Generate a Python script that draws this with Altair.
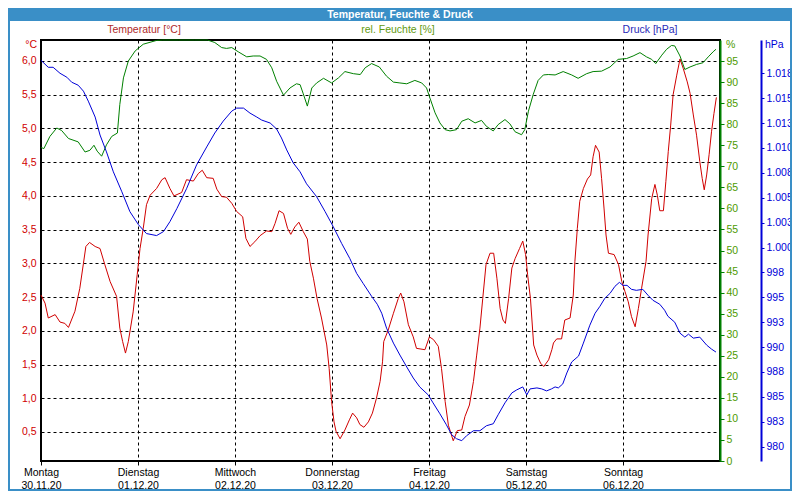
import altair as alt
import pandas as pd

# ---------------- data ----------------
temp_h = [0, 1, 1.8, 3.5, 4.7, 5.9, 6.8, 8.4, 9.6, 10.5, 11.1, 12, 13.4, 14.6, 15.8, 17.1, 18.7, 19.5, 20.2, 20.9,
          21.6, 22.8, 23.8, 24.5, 25.3, 26.1, 27, 28.6, 29.9, 30.7, 31.9, 32.9, 34.8, 36, 37.7, 38.9, 39.9, 41,
          42.6, 43.5, 44.7, 45.9, 47.2, 48.4, 49.9, 50.7, 51.7, 52.9, 54.2, 55.8, 57.1, 57.9, 58.9, 60, 61, 61.8,
          62.8, 63.8, 64.9, 65.9, 66.5, 67.4, 68.3, 69.4, 70.7, 71.3, 71.9, 72.5, 73, 74, 75.2, 76.3, 77.1, 78.1,
          78.9, 79.9, 81, 82, 83, 83.9, 84.5, 84.8, 85.9, 87.2, 88.4, 89, 89.8, 90.9, 92.1, 92.9, 95, 96.1, 97.1,
          98.3, 99.1, 100, 100.8, 102, 103, 104.1, 104.9, 106, 107, 107.8, 108.6, 109.3, 110.1, 111.1, 112, 112.8,
          113.6, 114.3, 114.9, 115.7, 116.5, 117.3, 118.4, 119.2, 119.9, 120.4, 121.1, 121.9, 122.7, 123.6, 124.4,
          125.6, 126.4, 126.8, 127.6, 128.8, 129.6, 130.9, 131.7, 132.1, 132.7, 133.3, 134.2, 135.2, 136, 136.6,
          137.2, 138.1, 138.7, 139.3, 139.8, 140.4, 141.8, 142.9, 143.7, 144.5, 145.3, 146.1, 147, 147.8, 148.6,
          149.7, 150.2, 151.1, 151.9, 152.5, 153.1, 154, 154.6, 155.2, 155.8, 156.4, 157.3, 158.1, 158.9, 159.9,
          160.6, 161.4, 162.2, 163, 163.6, 164.1, 164.7, 165.3, 165.9, 166.5, 167.1]
temp_v = [2.53, 2.41, 2.19, 2.24, 2.13, 2.11, 2.05, 2.29, 2.63, 3.0, 3.25, 3.31, 3.25, 3.22, 2.98, 2.73, 2.51, 2.04,
          1.84, 1.67, 1.84, 2.28, 2.83, 3.22, 3.52, 3.87, 4.01, 4.11, 4.24, 4.27, 4.11, 4.0, 4.05, 4.24, 4.22, 4.33,
          4.38, 4.27, 4.26, 4.10, 3.99, 3.98, 3.89, 3.77, 3.69, 3.37, 3.25, 3.32, 3.41, 3.48, 3.47, 3.59, 3.78,
          3.74, 3.52, 3.43, 3.54, 3.61, 3.47, 3.36, 3.03, 2.78, 2.48, 2.19, 1.79, 1.44, 0.95, 0.65, 0.51, 0.40,
          0.53, 0.68, 0.78, 0.71, 0.61, 0.57, 0.65, 0.78, 1.0, 1.25, 1.54, 1.84, 2.01, 2.26, 2.48, 2.56, 2.43,
          2.09, 1.91, 1.74, 1.72, 1.91, 1.87, 1.77, 1.44, 0.95, 0.60, 0.37, 0.52, 0.53, 0.73, 0.90, 1.25, 1.64,
          2.04, 2.48, 2.98, 3.15, 3.15, 2.78, 2.33, 2.16, 2.11, 2.48, 2.93, 3.07, 3.22, 3.33, 3.13, 2.83, 2.48,
          1.79, 1.64, 1.52, 1.47, 1.57, 1.72, 1.82, 1.88, 1.88, 2.16, 2.19, 2.53, 3.03, 3.52, 3.92, 4.11, 4.25,
          4.31, 4.58, 4.75, 4.65, 4.26, 3.82, 3.42, 3.15, 3.13, 2.98, 2.73, 2.58, 2.43, 2.21, 2.06, 2.33, 2.63,
          3.03, 3.42, 3.96, 4.17, 4.01, 3.78, 3.78, 4.21, 4.66, 5.05, 5.50, 5.79, 6.03, 5.89, 5.69, 5.52, 5.20,
          4.90, 4.51, 4.26, 4.09, 4.31, 4.61, 4.95, 5.22, 5.46]

hum_h = [0, 0.7, 2.2, 3.9, 5.1, 6.8, 9.2, 10.9, 12.1, 13.1, 13.9, 15, 16.2, 17.5, 18.9, 19.5, 20.4, 21.6, 23.3,
         25.3, 28.6, 30, 34, 38, 41.2, 41.8, 43, 44.7, 45.9, 47.2, 48.8, 50.9, 52.5, 54.2, 55.8, 57.1, 58.3, 60,
         61.6, 63.2, 64.1, 64.9, 65.9, 67, 68.2, 69.9, 71.9, 73.6, 75.2, 77.3, 79, 80.2, 81.8, 83.7, 85.5, 87.2,
         88.8, 90.5, 92.5, 94.2, 95.4, 96.2, 97.5, 98.7, 100, 101.2, 102.8, 104.1, 105.7, 107.4, 109, 110.2,
         111.9, 113.1, 114.8, 116, 117.3, 118.9, 119.7, 120.6, 121.8, 123, 124.3, 125.5, 127.2, 129.2, 131.3,
         132.9, 135, 136.6, 138.7, 140.8, 142.8, 144.9, 146.5, 148.2, 149.8, 151.1, 152.1, 153.6, 154.8, 156,
         156.8, 158.1, 159.3, 160.6, 162.2, 163.8, 165.1, 166.3, 167]
hum_v = [74.5, 74.2, 77.1, 79.1, 78.5, 76.6, 75.8, 73.4, 73.8, 75.0, 73.6, 72.4, 75.1, 77.1, 77.9, 84.7, 91.0,
         95.0, 97.4, 99.0, 99.9, 100, 100, 100, 100, 99.8, 99.4, 98.2, 98.0, 98.2, 97.2, 96.0, 96.2, 96.2, 95.4,
         93.4, 90.2, 86.9, 88.6, 89.6, 89.4, 87.2, 84.3, 88.6, 89.8, 90.9, 89.8, 91.0, 92.5, 92.0, 91.8, 93.4,
         94.4, 93.6, 91.4, 90.0, 89.8, 89.6, 90.4, 89.8, 88.6, 86.3, 82.7, 80.3, 78.7, 78.4, 78.7, 80.7, 81.3,
         80.3, 80.9, 79.5, 78.4, 79.9, 81.1, 80.1, 78.2, 77.5, 78.7, 83.1, 87.1, 90.4, 91.7, 91.8, 91.7, 92.5,
         91.7, 90.9, 92.0, 92.5, 92.6, 93.6, 95.4, 95.6, 96.2, 97.0, 96.0, 95.4, 94.4, 96.4, 97.8, 98.7, 98.6,
         96.2, 93.0, 93.6, 94.2, 94.6, 96.0, 97.2, 97.8]

press_h = [0, 1.8, 3, 4.7, 6.4, 7.6, 9.2, 10.5, 11.7, 13.4, 14.6, 16.2, 17.9, 20, 22, 24.1, 26.1, 28.6, 30.3,
           31.9, 33.6, 36, 38.5, 41, 43, 45.1, 47.2, 48.4, 50.1, 51.7, 53.4, 54.6, 56.7, 58.3, 59.5, 60.8, 62.4,
           64.1, 65.7, 68.2, 70.3, 72.3, 74.4, 76.4, 78.1, 79.7, 81.8, 83.2, 84.3, 85.5, 87.2, 88.8, 90.5, 92.1,
           93.7, 95.8, 97, 98.7, 100.3, 101.6, 102.8, 104.1, 105.3, 107, 108.6, 110.2, 111.9, 113.1, 114.8,
           116.5, 117.7, 119.2, 120.2, 121, 122.7, 123.9, 125.1, 126.3, 127.2, 128, 129.1, 130.1, 131.3, 133,
           134.2, 135.8, 137.1, 138.3, 139.5, 140.8, 142, 143.1, 144, 145, 146.1, 147.3, 148.9, 150.2, 151.4,
           153.1, 154.3, 155.1, 156.8, 158.1, 159.3, 160.2, 161.4, 163, 164.7, 165.9, 167]
press_v = [1018.8, 1018.1, 1018.1, 1017.5, 1017.1, 1016.6, 1016.3, 1015.7, 1014.7, 1013.1, 1011.3, 1009.6,
           1007.6, 1005.6, 1003.6, 1002.3, 1001.4, 1001.2, 1001.6, 1002.6, 1003.9, 1005.9, 1008.3, 1010.1,
           1011.5, 1012.7, 1013.7, 1014.0, 1014.0, 1013.5, 1013.1, 1012.8, 1012.5, 1011.9, 1011.0, 1009.8,
           1008.5, 1007.6, 1006.4, 1005.1, 1003.6, 1002.1, 1000.4, 998.9, 997.4, 996.4, 995.1, 994.3, 993.4,
           991.9, 990.4, 989.2, 988.0, 986.9, 986.0, 985.2, 984.4, 983.3, 982.2, 981.2, 980.8, 980.6, 981.1,
           981.6, 981.6, 982.1, 982.3, 983.2, 984.4, 985.4, 985.7, 986.0, 985.2, 985.8, 985.9, 985.8, 985.6,
           985.8, 986.0, 985.9, 986.3, 987.4, 988.5, 989.1, 990.4, 992.2, 993.4, 994.1, 994.9, 995.4, 996.1,
           996.5, 996.2, 996.2, 995.8, 995.7, 995.8, 995.2, 994.7, 994.3, 993.7, 993.1, 992.5, 991.4, 991.0,
           991.3, 990.9, 991.0, 990.2, 989.8, 989.5]

days = ["Montag", "Dienstag", "Mittwoch", "Donnerstag", "Freitag", "Samstag", "Sonntag"]
dates = ["30.11.20", "01.12.20", "02.12.20", "03.12.20", "04.12.20", "05.12.20", "06.12.20"]
day_hours = [0, 24, 48, 72, 96, 120, 144]
temp_ticks = [0.5, 1.0, 1.5, 2.0, 2.5, 3.0, 3.5, 4.0, 4.5, 5.0, 5.5, 6.0]
hum_ticks = list(range(0, 100, 5))
press_ticks = [980, 982.5, 985, 987.5, 990, 992.5, 995, 997.5, 1000, 1002.5, 1005, 1007.5, 1010, 1012.5,
               1015, 1017.5]

title_text = "Temperatur, Feuchte & Druck"
series_titles = ["Temperatur [°C]", "rel. Feuchte [%]", "Druck [hPa]"]

# ---------------- layout / style ----------------
W, H = 679, 421
FONT = "Liberation Sans"
FS = 10.5
RED, GREEN, BLUE = "#d00000", "#008000", "#0000d8"
BAR = "#3a8fc7"

df_t = pd.DataFrame({"h": temp_h, "v": temp_v})
df_f = pd.DataFrame({"h": hum_h, "v": hum_v})
df_p = pd.DataFrame({"h": press_h, "v": press_v})
one = pd.DataFrame({"k": [0]})

label_expr = "[" + ",".join(f"['{d}','{t}']" for d, t in zip(days, dates)) + "][round(datum.value/24)]"

xaxis = alt.Axis(values=day_hours, labelExpr=label_expr, grid=True, gridDash=[3, 3], gridColor="black",
                 gridWidth=1, gridOpacity=1, domain=False, ticks=True, tickColor="black", tickSize=4,
                 labelColor="black", labelFontSize=FS, labelLineHeight=13, labelPadding=2, title=None,
                 labelAngle=0, labelAlign="center", labelBaseline="top", labelFlush=False,
                 labelOverlap=False)
xenc = alt.X("h:Q", scale=alt.Scale(domain=[0, 168], nice=False, zero=False), axis=xaxis)

temp_line = alt.Chart(df_t).mark_line(color=RED, strokeWidth=1).encode(
    x=xenc,
    y=alt.Y("v:Q", scale=alt.Scale(domain=[0.07, 6.311], nice=False, zero=False),
            axis=alt.Axis(orient="left", values=temp_ticks,
                          labelExpr="replace(format(datum.value, '.1f'), '.', ',')",
                          grid=True, gridDash=[3, 3], gridColor="black", gridWidth=1, gridOpacity=1,
                          domain=False, ticks=False, labelColor=RED, labelFontSize=FS, labelPadding=5,
                          title=None))
)

hum_line = alt.Chart(df_f).mark_line(color=GREEN, strokeWidth=1).encode(
    x=xenc,
    y=alt.Y("v:Q", scale=alt.Scale(domain=[0, 100], nice=False, zero=False),
            axis=alt.Axis(orient="right", values=hum_ticks, grid=False, domainColor=GREEN, domainWidth=2,
                          tickColor=GREEN, tickSize=4, tickWidth=1, labelColor="#4e9a00",
                          labelFontSize=FS, labelPadding=2, title=None))
)

press_line = alt.Chart(df_p).mark_line(color=BLUE, strokeWidth=1).encode(
    x=xenc,
    y=alt.Y("v:Q", scale=alt.Scale(domain=[978.56, 1020.84], nice=False, zero=False),
            axis=alt.Axis(orient="right", offset=41, values=press_ticks,
                          labelExpr="replace(format(datum.value, ',.0f'), ',', '.')",
                          grid=False, domainColor=BLUE, domainWidth=2, tickColor=BLUE, tickSize=3,
                          tickWidth=1, labelColor=BLUE, labelFontSize=FS, labelPadding=2, title=None))
)


def text(s, x, y, color, align="center", bold=False, size=FS):
    return alt.Chart(one).mark_text(
        align=align, baseline="middle", color=color, font=FONT, fontSize=size,
        fontWeight="bold" if bold else "normal"
    ).encode(x=alt.value(x), y=alt.value(y), text=alt.value(s))


bar = alt.Chart(one).mark_rect(color=BAR).encode(
    x=alt.value(-33), x2=alt.value(751), y=alt.value(-32), y2=alt.value(-19))
frame = alt.Chart(one).mark_rect(fillOpacity=0, stroke=BAR, strokeWidth=2).encode(
    x=alt.value(-32), x2=alt.value(750), y=alt.value(-31), y2=alt.value(450))

layers = [
    bar, frame,
    text(title_text, 359, -25.5, "white", bold=True),
    text(series_titles[0], 103, -10, "#b02a2a"),
    text(series_titles[1], 357, -10, "#5f9a10"),
    text(series_titles[2], 609, -10, "#2a2ab8"),
    text("°C", -4, 5, RED, align="right"),
    text("%", 685, 5, "#4e9a00", align="left"),
    text("hPa", 724, 5, BLUE, align="left"),
]

chart = alt.layer(temp_line, hum_line, press_line, *layers).resolve_scale(
    y="independent"
).resolve_axis(y="independent").properties(
    width=W, height=H,
    autosize=alt.AutoSizeParams(type="none"),
    padding={"left": 33, "top": 32, "right": 72, "bottom": 30},
    background="white",
).configure_view(stroke="black", strokeWidth=2).configure_axis(
    labelFont=FONT
).configure_text(font=FONT)

chart.save("out.html", embed_options={"renderer": "svg", "actions": False})
